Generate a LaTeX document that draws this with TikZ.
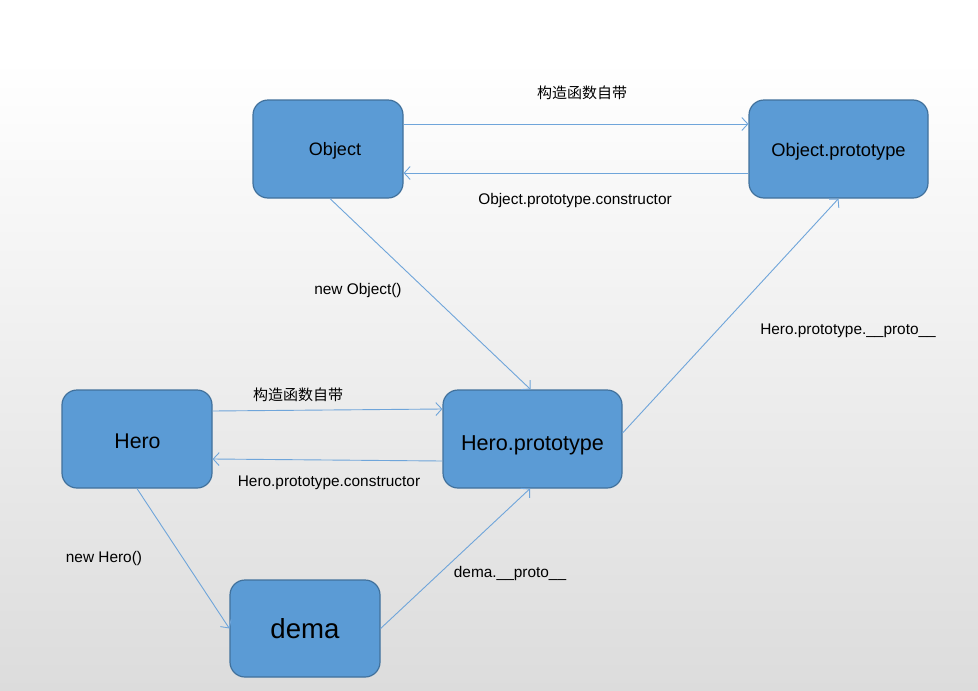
\documentclass[tikz,border=0pt]{standalone}
\usepackage{fontspec}
\setmainfont{Liberation Sans}
\newfontfamily\cjk{Noto Sans CJK SC}
\usetikzlibrary{arrows.meta}
\definecolor{boxfill}{HTML}{5B9BD5}
\definecolor{boxline}{HTML}{41719C}
\definecolor{arrowc}{HTML}{6FA5DA}
\definecolor{bgbot}{HTML}{DCDCDC}
\tikzset{
  box/.style={draw=boxline, line width=1.2pt, fill=boxfill, rounded corners=15pt,
    minimum width=150pt, minimum height=98pt, inner sep=0pt, text=black, text depth=0pt},
  widebox/.style={box, minimum width=179pt},
  conn/.style={draw=arrowc, line width=0.9pt, -{Straight Barb[length=6pt,width=13pt,line width=0.9pt]}},
  lbl/.style={font=\fontsize{15.4pt}{17pt}\selectfont, inner sep=0pt, text=black},
  clbl/.style={font=\cjk\fontsize{15pt}{17pt}\selectfont, inner sep=0pt, text=black}
}
\begin{document}
\begin{tikzpicture}[x=1pt,y=-1pt]
\useasboundingbox (0,0) rectangle (978,691);
\fill[white] (0,0) rectangle (978,60);
\shade[top color=white, bottom color=white!55!bgbot] (0,60) rectangle (978,345);
\shade[top color=white!55!bgbot, bottom color=bgbot] (0,345) rectangle (978,691);

\node[box, text height=12pt, font=\fontsize{18pt}{20pt}\selectfont] (obj) at (328,149) {\hspace*{14pt}Object};
\node[widebox, text height=14pt, font=\fontsize{18.3pt}{20pt}\selectfont] (op) at (838.5,149) {Object.prototype};
\node[box, text height=18pt, font=\fontsize{21.3pt}{23pt}\selectfont] (hero) at (137,439) {\hspace*{1pt}Hero};
\node[widebox, text height=22pt, font=\fontsize{21.6pt}{23pt}\selectfont] (hp) at (532.5,439) {Hero.prototype};
\node[box, minimum height=97pt, text height=19pt, font=\fontsize{27.6pt}{29pt}\selectfont] (dema) at (305,628.5) {dema};

\draw[conn] ([yshift=25pt]obj.east) -- ([yshift=25pt]op.west);
\draw[conn] ([yshift=-24pt]op.west) -- ([yshift=-24pt]obj.east);
\draw[conn] ([xshift=2pt]obj.south) -- ([xshift=-2pt]hp.north);
\draw[conn] ([yshift=6pt]hp.east) -- (op.south);
\draw[conn] ([yshift=28pt]hero.east) -- ([yshift=30pt]hp.west);
\draw[conn] ([yshift=-22pt]hp.west) -- ([yshift=-20pt]hero.east);
\draw[conn] (hero.south) -- (dema.west);
\draw[conn] (dema.east) -- ([xshift=-2.5pt]hp.south);

\node[clbl] (l1) at (582,92.5) {构造函数自带};
\node[lbl] (l2) at (575,201) {Object.prototype.constructor};
\node[lbl] (l3) at (358,291) {new Object()};
\node[lbl] (l4) at (848,331) {Hero.prototype.\_\_proto\_\_};
\node[clbl] (l5) at (298,395) {构造函数自带};
\node[lbl] (l6) at (329,483) {Hero.prototype.constructor};
\node[lbl] (l7) at (104,559) {new Hero()};
\node[lbl] (l8) at (510,574) {dema.\_\_proto\_\_};
\end{tikzpicture}
\end{document}
